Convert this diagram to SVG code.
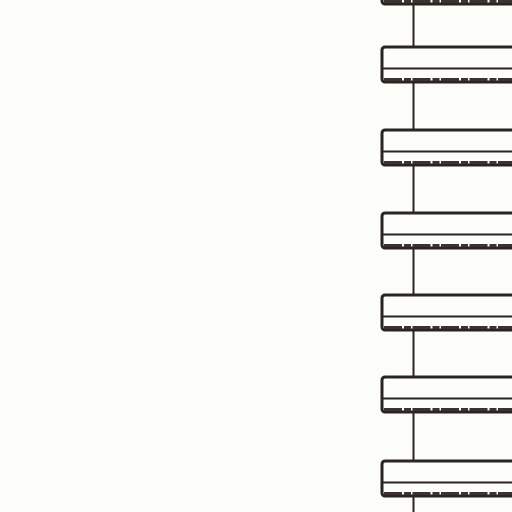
<svg xmlns="http://www.w3.org/2000/svg" width="512" height="512" viewBox="0 0 512 512">
<style>
.bar{fill:#fdfdfb;stroke:#2b2522;stroke-width:3}
.inner{stroke:#2b2522;stroke-width:2;fill:none}
.base{stroke:#3a3330;stroke-width:3;fill:none;stroke-dasharray:18 2 7 1.5}
.wire{stroke:#2b2522;stroke-width:2;fill:none}
</style>
<rect width="512" height="512" fill="#fcfcf9"/>
<g id="connectors">
<line class="wire" x1="413.5" y1="0" x2="413.5" y2="512"/>
</g>
<g id="bar0"><rect class="bar" x="382" y="-31" width="140" height="35" rx="3"/><line class="base" x1="384" y1="1.5" x2="512" y2="1.5"/></g>
<g id="bar1"><rect class="bar" x="382" y="47" width="140" height="35" rx="3"/><line class="inner" x1="383" y1="68.5" x2="512" y2="68.5"/><line class="base" x1="384" y1="79.5" x2="512" y2="79.5"/></g>
<g id="bar2"><rect class="bar" x="382" y="130" width="140" height="35" rx="3"/><line class="inner" x1="383" y1="151.5" x2="512" y2="151.5"/><line class="base" x1="384" y1="162.5" x2="512" y2="162.5"/></g>
<g id="bar3"><rect class="bar" x="382" y="213" width="140" height="35" rx="3"/><line class="inner" x1="383" y1="234.5" x2="512" y2="234.5"/><line class="base" x1="384" y1="245.5" x2="512" y2="245.5"/></g>
<g id="bar4"><rect class="bar" x="382" y="295" width="140" height="35" rx="3"/><line class="inner" x1="383" y1="316.5" x2="512" y2="316.5"/><line class="base" x1="384" y1="327.5" x2="512" y2="327.5"/></g>
<g id="bar5"><rect class="bar" x="382" y="377" width="140" height="35" rx="3"/><line class="inner" x1="383" y1="398.5" x2="512" y2="398.5"/><line class="base" x1="384" y1="409.5" x2="512" y2="409.5"/></g>
<g id="bar6"><rect class="bar" x="382" y="461" width="140" height="35" rx="3"/><line class="inner" x1="383" y1="482.5" x2="512" y2="482.5"/><line class="base" x1="384" y1="493.5" x2="512" y2="493.5"/></g>
</svg>
